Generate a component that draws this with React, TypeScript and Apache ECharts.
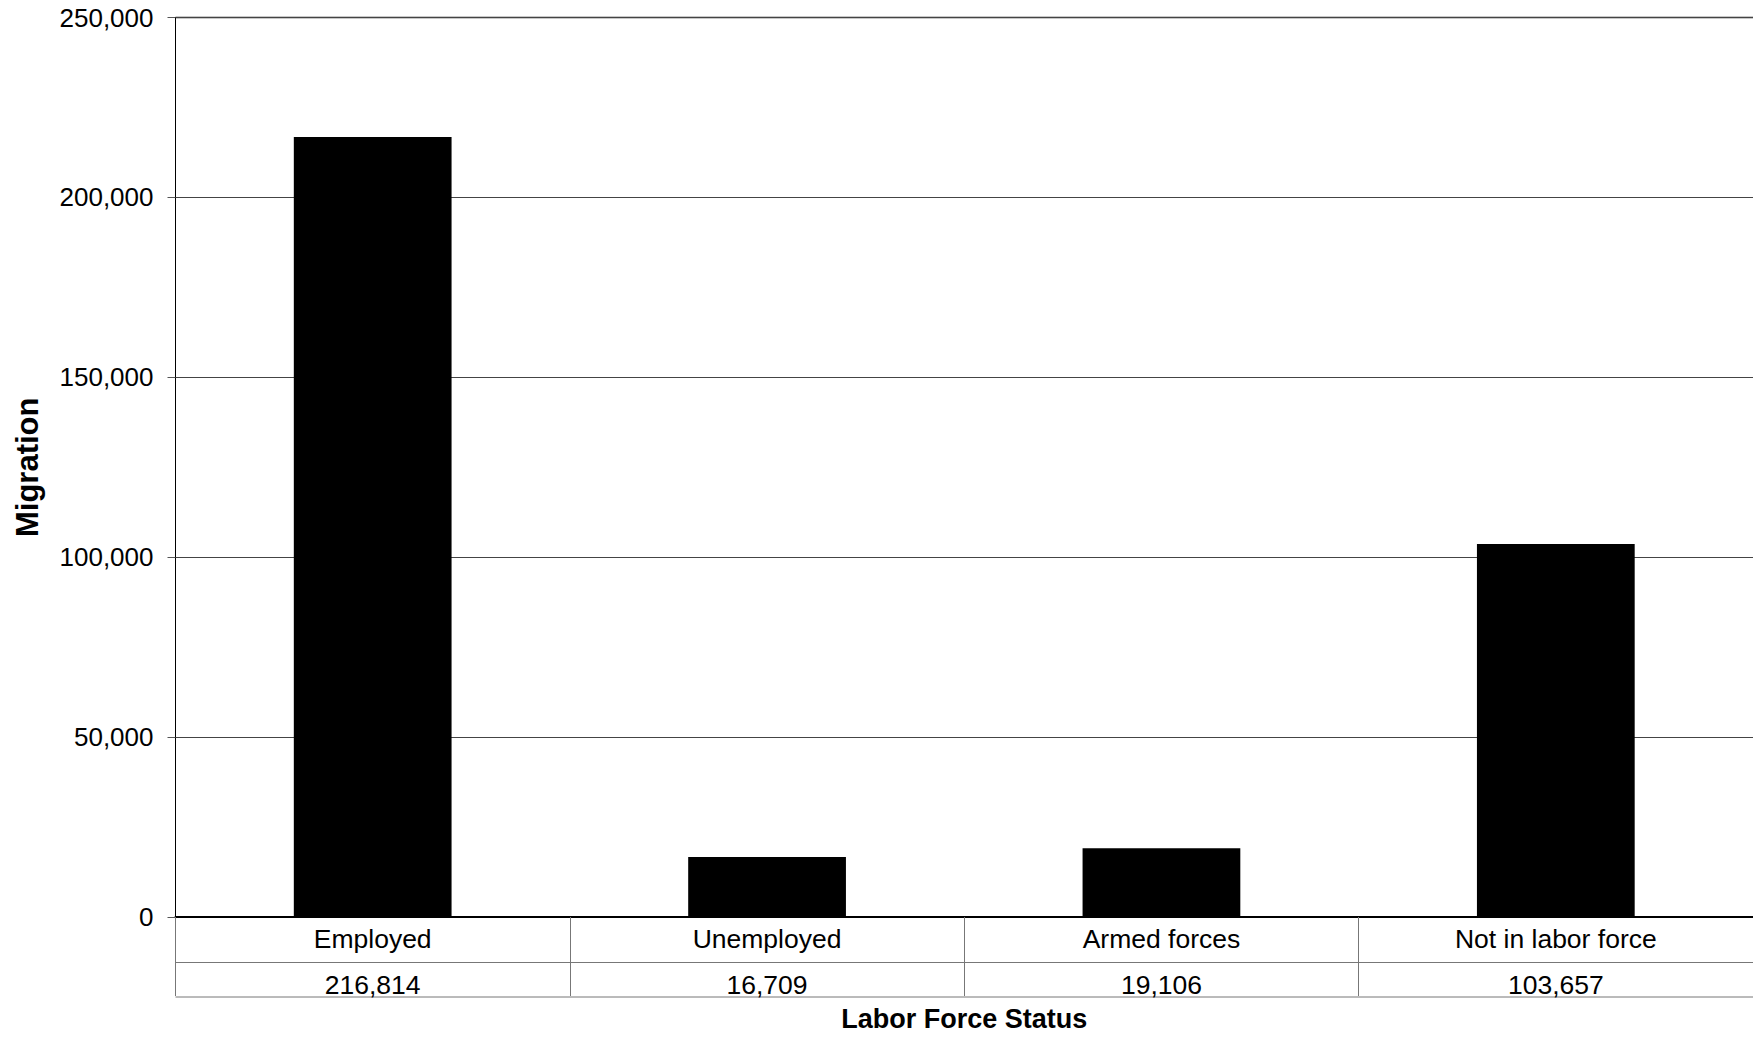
import React, { useEffect, useRef } from "react";
import * as echarts from "echarts";

const categories = ["Employed", "Unemployed", "Armed forces", "Not in labor force"];
const values = [216814, 16709, 19106, 103657];
const yTicks = { min: 0, max: 250000, interval: 50000 };
const xTitle = "Labor Force Status";
const yTitle = "Migration";

const FONT = "'Liberation Sans', Arial, sans-serif";
const fmt = (v: number) => v.toLocaleString("en-US");

const W = 1753;
const H = 1037;
const GRID_LEFT = 175.5;
const GRID_TOP = 17.5;
const GRID_BOTTOM_Y = 918;
const TABLE_BOTTOM_Y = 997;

export default function App() {
  const ref = useRef<HTMLDivElement>(null);
  useEffect(() => {
    if (!ref.current) return;
    const chart = echarts.init(ref.current, undefined, { renderer: "svg" });
    chart.setOption({
      animation: false,
      backgroundColor: "#ffffff",
      textStyle: { fontFamily: FONT },
      grid: { left: GRID_LEFT, top: GRID_TOP, right: 0, bottom: H - GRID_BOTTOM_Y, containLabel: false },
      xAxis: [
        {
          type: "category",
          data: categories,
          position: "bottom",
          axisLine: { show: true, lineStyle: { color: "#000", width: 2 } },
          axisTick: { show: true, inside: false, length: TABLE_BOTTOM_Y - GRID_BOTTOM_Y, lineStyle: { color: "#777", width: 1 } },
          axisLabel: { color: "#000", fontSize: 26.5, fontFamily: FONT, margin: 8, interval: 0 },
          name: xTitle,
          nameLocation: "middle",
          nameGap: 88,
          nameTextStyle: { color: "#000", fontSize: 27, fontWeight: "bold", fontFamily: FONT },
          splitLine: { show: false },
        },
        {
          type: "category",
          data: values.map(fmt),
          position: "bottom",
          offset: 45,
          axisLine: { show: true, lineStyle: { color: "#777", width: 1 } },
          axisTick: { show: false },
          axisLabel: { color: "#000", fontSize: 26.5, fontFamily: FONT, margin: 9, interval: 0 },
          splitLine: { show: false },
        },
      ],
      yAxis: {
        type: "value",
        min: yTicks.min,
        max: yTicks.max,
        interval: yTicks.interval,
        axisLine: { show: true, lineStyle: { color: "#000", width: 1 } },
        axisTick: { show: true, inside: false, length: 8, lineStyle: { color: "#555" } },
        axisLabel: { color: "#000", fontSize: 26, fontFamily: FONT, margin: 22, formatter: (v: number) => fmt(v) },
        splitLine: { show: true, lineStyle: { color: "#444", width: 1 } },
        name: yTitle,
        nameLocation: "middle",
        nameRotate: 90,
        nameGap: 133,
        nameTextStyle: { color: "#000", fontSize: 31, fontWeight: "bold", fontFamily: FONT },
      },
      series: [
        {
          type: "bar",
          data: values,
          xAxisIndex: 0,
          barWidth: "40%",
          itemStyle: { color: "#000" },
        },
      ],
      graphic: [
        {
          type: "line",
          shape: { x1: GRID_LEFT, y1: TABLE_BOTTOM_Y, x2: W, y2: TABLE_BOTTOM_Y },
          style: { stroke: "#777", lineWidth: 1 },
          silent: true,
        },
        {
          type: "line",
          shape: { x1: GRID_LEFT, y1: GRID_TOP, x2: W, y2: GRID_TOP },
          style: { stroke: "#222", lineWidth: 1.5 },
          silent: true,
        },
      ],
    });
    return () => chart.dispose();
  }, []);
  return (
    <div
      ref={ref}
      style={{ position: "fixed", left: 0, top: 0, width: W, height: H, background: "#fff" }}
    />
  );
}
